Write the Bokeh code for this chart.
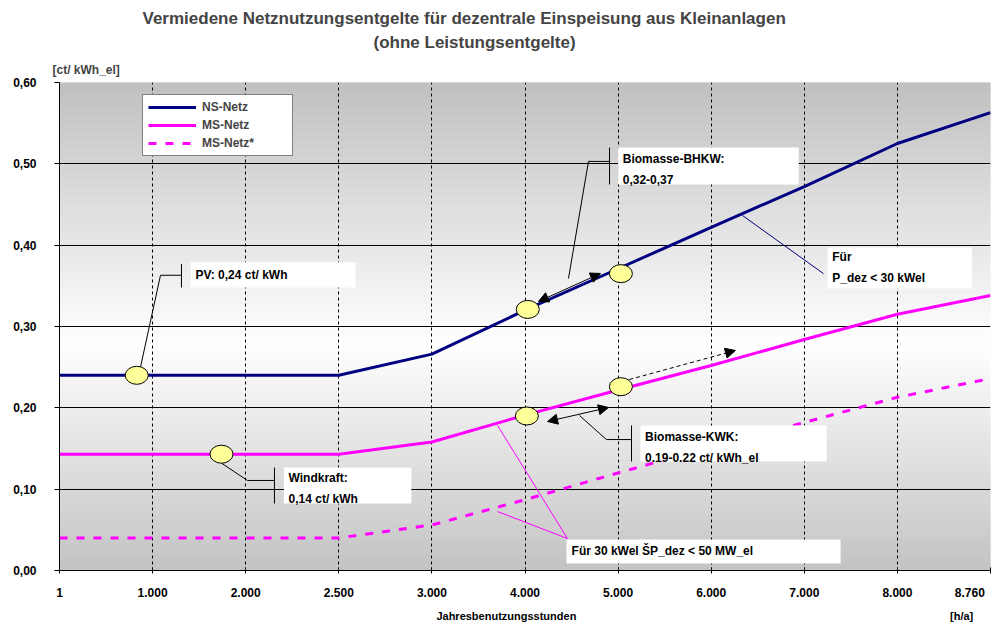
import numpy as np
from bokeh.plotting import figure
from bokeh.models import (Range1d, FixedTicker, Arrow, NormalHead, Title, LinearAxis,
                          Legend, LegendItem, ColumnDataSource)
from bokeh.core.properties import value
from bokeh.embed import file_html
from bokeh.resources import INLINE

# ---------------- data ----------------
hours = [1, 1000, 2000, 2500, 3000, 4000, 5000, 6000, 7000, 8000, 8760]
ns_netz = [0.240, 0.240, 0.240, 0.240, 0.266, 0.320, 0.371, 0.422, 0.472, 0.525, 0.563]
ms_netz = [0.143, 0.143, 0.143, 0.143, 0.158, 0.191, 0.222, 0.252, 0.284, 0.315, 0.338]
ms_netz_star = [0.040, 0.040, 0.040, 0.040, 0.056, 0.087, 0.120, 0.152, 0.182, 0.213, 0.236]
y_ticks = [0.0, 0.1, 0.2, 0.3, 0.4, 0.5, 0.6]

# yellow markers (hours, value)
marker_hours = [830, 1740, 4030, 5030, 4020, 5030]
marker_vals = [0.240, 0.143, 0.321, 0.365, 0.190, 0.226]

title1 = "Vermiedene Netznutzungsentgelte für dezentrale Einspeisung aus Kleinanlagen"
title2 = "(ohne Leistungsentgelte)"
y_unit = "[ct/ kWh_el]"
x_title = "Jahresbenutzungsstunden"
x_unit = "[h/a]"

x_labels = [f"{h:,}".replace(",", ".") for h in hours]
y_labels = [f"{v:.2f}".replace(".", ",") for v in y_ticks]
idx = list(range(len(hours)))


def hx(h):
    """hours -> axis position (equally spaced tick categories)"""
    return np.interp(h, hours, idx)


FONT = "Liberation Sans"

# ---------------- figure ----------------
p = figure(width=991, height=624, x_range=Range1d(0, 10), y_range=Range1d(0, 0.6),
           output_backend="svg", toolbar_location=None,
           min_border_left=59, min_border_right=1, min_border_top=82, min_border_bottom=54)
p.outline_line_color = None
p.background_fill_color = "white"
p.border_fill_color = "white"

# titles: first added sits next to the frame, p.title is outermost
p.add_layout(Title(text=y_unit, align="left", offset=-7, standoff=11, text_font=FONT,
                   text_font_style="bold", text_font_size="12px"), "above")
p.add_layout(Title(text=title2, align="left", offset=314, standoff=7, text_font=FONT,
                   text_font_style="bold", text_font_size="17px"), "above")
p.title.text = title1
p.title.align = "left"
p.title.offset = 83
p.title.standoff = 0
p.title.text_font = FONT
p.title.text_font_style = "bold"
p.title.text_font_size = "17px"

# background gradient (style only)
edges = np.linspace(0, 0.6, 61)
mids = (edges[:-1] + edges[1:]) / 2
cols = []
for m in mids:
    if m > 0.28:
        g = 255 - 63 * (m - 0.28) / 0.32
    else:
        g = 255 - 60 * (0.28 - m) / 0.28
    g = int(round(g))
    cols.append(f"#{g:02x}{g:02x}{g:02x}")
p.quad(left=0, right=10, bottom=edges[:-1], top=edges[1:], fill_color=cols,
       line_color=cols, line_width=1, level="image")

# grids
p.xgrid.ticker = FixedTicker(ticks=idx)
p.ygrid.ticker = FixedTicker(ticks=y_ticks)
p.xgrid.grid_line_color = "black"
p.xgrid.grid_line_dash = "3 3"
p.xgrid.grid_line_width = 1
p.ygrid.grid_line_color = "black"
p.ygrid.grid_line_width = 1

# axes
xa = p.xaxis[0]
ya = p.yaxis[0]
xa.ticker = FixedTicker(ticks=idx)
ov = {i: lab for i, lab in zip(idx, x_labels)}
ov[idx[-1]] = x_labels[-1] + "\u00a0" * 2   # keep last label inside the canvas
xa.major_label_overrides = ov
ya.ticker = FixedTicker(ticks=y_ticks)
ya.major_label_overrides = {v: lab for v, lab in zip(y_ticks, y_labels)}
for ax in (xa, ya):
    ax.axis_line_color = "black"
    ax.major_tick_line_color = "black"
    ax.minor_tick_line_color = None
    ax.major_label_text_font = FONT
    ax.major_label_text_font_style = "bold"
    ax.major_label_text_font_size = "12px"
    ax.major_label_text_color = "black"
xa.major_tick_in = 3
xa.major_tick_out = 3
xa.major_label_standoff = 12
ya.major_tick_in = 0
ya.major_tick_out = 5
ya.major_label_standoff = 18

# axis caption row below the tick labels
cap_pos = [4.80, 9.69]
cap_axis = LinearAxis(ticker=FixedTicker(ticks=cap_pos),
                      major_label_overrides={cap_pos[0]: x_title, cap_pos[1]: x_unit},
                      axis_line_color=None, major_tick_line_color=None,
                      minor_tick_line_color=None, major_tick_in=0, major_tick_out=0,
                      major_label_standoff=7,
                      major_label_text_font=FONT, major_label_text_font_style="bold",
                      major_label_text_font_size="11px", major_label_text_color="black")
p.add_layout(cap_axis, "below")

# series
xs = [hx(h) for h in hours]
r_ns = p.line(xs, ns_netz, line_color="#000080", line_width=3)
r_ms = p.line(xs, ms_netz, line_color="#ff00ff", line_width=3)
r_mss = p.line(xs, ms_netz_star, line_color="#ff00ff", line_width=3, line_dash="8 9")

# ---------------- annotations (layout) ----------------
boxes = dict(
    left=[1.41, 2.41, 6.00, 8.25, 6.24, 5.446],
    right=[3.18, 3.78, 7.94, 9.80, 8.24, 8.39],
    bottom=[0.348, 0.0824, 0.4746, 0.3467, 0.134, 0.0086],
    top=[0.379, 0.1266, 0.520, 0.397, 0.1783, 0.0381],
)
p.quad(source=ColumnDataSource(boxes), left="left", right="right", bottom="bottom",
       top="top", fill_color="white", line_color=None)

texts = dict(
    x=[1.46, 2.46, 6.05, 8.30, 6.29, 5.50],
    y=[0.3635, 0.1014, 0.4935, 0.372, 0.1518, 0.0234],
    t=["PV: 0,24 ct/ kWh", "Windkraft:\n0,14 ct/ kWh", "Biomasse-BHKW:\n0,32-0,37",
       "Für\nP_dez < 30 kWel", "Biomasse-KWK:\n0.19-0.22 ct/ kWh_el",
       "Für 30 kWel ŠP_dez < 50 MW_el"],
)
p.text(source=ColumnDataSource(texts), x="x", y="y", text="t", text_font=value(FONT),
       text_font_style="bold", text_font_size="12px", text_color="black",
       text_align="left", text_baseline="middle", text_line_height=1.5)

# black callout brackets and leaders
p.multi_line(
    xs=[[1.31, 1.31], [1.31, 1.085, 0.87],
        [2.309, 2.309], [2.309, 2.019, 1.729],
        [5.908, 5.908], [5.908, 5.682, 5.467],
        [6.144, 6.144], [6.144, 5.875, 5.585]],
    ys=[[0.348, 0.377], [0.363, 0.363, 0.250],
        [0.0824, 0.1266], [0.1107, 0.1107, 0.1328],
        [0.4746, 0.520], [0.503, 0.503, 0.359],
        [0.134, 0.1783], [0.161, 0.161, 0.1906]],
    line_color="black", line_width=1)
p.line([7.336, 8.206], [0.4365, 0.365], line_color="#000080", line_width=1)
p.multi_line(xs=[[5.456, 4.705], [5.456, 4.705]], ys=[[0.0393, 0.1783], [0.0393, 0.0725]],
             line_color="#ff00ff", line_width=1)


# arrows
def head():
    return NormalHead(size=10, fill_color="black", line_color="black")


p.add_layout(Arrow(start=head(), end=head(), x_start=5.145, y_start=0.3308,
                   x_end=5.811, y_end=0.3652, line_color="black", line_width=1))
p.add_layout(Arrow(start=head(), end=head(), x_start=5.242, y_start=0.1832,
                   x_end=5.897, y_end=0.2004, line_color="black", line_width=1))
p.add_layout(Arrow(end=head(), x_start=6.12, y_start=0.2348, x_end=7.26, y_end=0.2705,
                   line_color="black", line_width=1, line_dash="4 3"))

# yellow markers
p.ellipse(x=[hx(h) for h in marker_hours], y=marker_vals, width=23, height=18,
          width_units="screen", height_units="screen", fill_color="#ffff99",
          line_color="black", line_width=1)

# legend
legend = Legend(items=[LegendItem(label="NS-Netz", renderers=[r_ns]),
                       LegendItem(label="MS-Netz", renderers=[r_ms]),
                       LegendItem(label="MS-Netz*", renderers=[r_mss])],
                location=(83, 414), margin=0, padding=5, spacing=4,
                glyph_width=48, glyph_height=14, label_height=14, label_width=85,
                label_standoff=6, border_line_color="black", border_line_width=1,
                background_fill_color="white", background_fill_alpha=1,
                label_text_font=FONT, label_text_font_style="bold",
                label_text_font_size="12px")
p.add_layout(legend)

open("out.html", "w").write(file_html(p, INLINE))
